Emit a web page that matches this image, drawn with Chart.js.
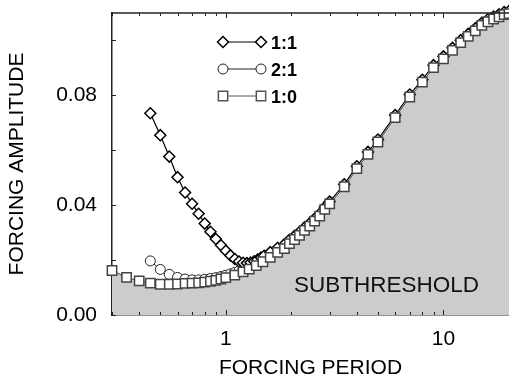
<!DOCTYPE html>
<html>
<head>
<meta charset="utf-8">
<script src="https://cdn.jsdelivr.net/npm/chart.js@4.4.1/dist/chart.umd.min.js"></script>
<style>
  html, body { margin: 0; padding: 0; background: #fff; }
</style>
</head>
<body>
<canvas id="chart" width="509" height="383"></canvas>
<script>
// 1:0 (squares) - threshold curve, filled below
const periodSquares = [0.3,0.35,0.4,0.45,0.5,0.55,0.6,0.65,0.7,0.75,0.8,0.85,0.9,0.95,
  1.0,1.1,1.2,1.28,1.38,1.48,1.6,1.73,1.86,1.96,2.07,2.18,2.3,2.43,2.56,2.7,2.85,3.0,
  3.5,4.0,4.5,5,6,7,8,9,10,11,12,13,14,15,16,17,18,19,20];
const ampSquares = [0.0162,0.0137,0.0124,0.0116,0.0112,0.0112,0.0113,0.0115,0.0116,0.0117,0.0120,0.0123,0.0126,0.0131,
  0.0136,0.0145,0.0157,0.0167,0.0180,0.0194,0.0210,0.0228,0.0242,0.0260,0.0275,0.0290,0.0308,0.0324,0.0342,0.0360,0.0385,0.0405,
  0.0467,0.0533,0.0585,0.0630,0.0719,0.0794,0.0848,0.0901,0.0933,0.0964,0.0992,0.1015,0.1035,0.1055,0.1068,0.1078,0.1086,0.1094,0.1098];

// 1:1 (diamonds)
const periodDiamonds = [0.45,0.5,0.55,0.6,0.65,0.7,0.75,0.8,0.85,0.9,0.95,1.0,1.05,1.1,1.15,1.2,1.25,1.3,1.35,1.4,1.45,1.5,
  1.6,1.73,1.86,1.96,2.07,2.18,2.3,2.43,2.56,2.7,2.85,3.0,
  3.5,4.0,4.5,5,6,7,8,9,10,11,12,13,14,15,16,17,18,19,20];
const ampDiamonds = [0.0735,0.0655,0.0577,0.0502,0.0446,0.0405,0.0369,0.0333,0.0303,0.0277,0.0254,0.0234,0.0217,0.0204,0.0195,0.0190,0.0189,0.0191,0.0196,0.0202,0.0209,0.0216,
  0.0229,0.0245,0.0258,0.0274,0.0288,0.0302,0.0319,0.0334,0.0351,0.0369,0.0393,0.0413,
  0.0476,0.0542,0.0594,0.0639,0.0728,0.0803,0.0857,0.0910,0.0942,0.0973,0.1001,0.1024,0.1044,0.1064,0.1077,0.1087,0.1095,0.1103,0.1107];

// 2:1 (circles)
const periodCircles = [0.45,0.5,0.55,0.6,0.65,0.7,0.75,0.8,0.85,0.9,0.95,1.0,1.05,1.1,1.15,1.2];
const ampCircles = [0.0197,0.0166,0.0148,0.0137,0.0131,0.0128,0.0128,0.0130,0.0133,0.0136,0.0140,0.0145,0.0150,0.0155,0.0161,0.0167];

const xTickVals = [0.3,0.4,0.5,0.6,0.7,0.8,0.9,1,2,3,4,5,6,7,8,9,10,20];
const xLabelVals = [1, 10];
const yTickVals = [0, 0.02, 0.04, 0.06, 0.08, 0.10];
const yLabelVals = [0, 0.04, 0.08];

const legendNames = ['1:1', '2:1', '1:0'];

const pts = (xs, ys) => xs.map((v, i) => ({ x: v, y: ys[i] }));
const near = (arr, v) => arr.some(a => Math.abs(a - v) < 1e-9);
const FONT = '"Liberation Sans", Arial, sans-serif';

const decor = {
  id: 'decor',
  afterDraw(chart) {
    const { ctx, chartArea: a, scales: { x, y } } = chart;
    ctx.save();
    ctx.strokeStyle = '#222';
    ctx.lineWidth = 1.5;
    ctx.beginPath();
    ctx.moveTo(a.left, a.top); ctx.lineTo(a.right, a.top);
    ctx.stroke();

    ctx.lineWidth = 1;
    ctx.beginPath();
    xTickVals.forEach(v => {
      const px = Math.round(x.getPixelForValue(v)) + 0.5;
      const len = near(xLabelVals, v) ? 5 : 3;
      ctx.moveTo(px, a.bottom); ctx.lineTo(px, a.bottom - len);
      ctx.moveTo(px, a.top); ctx.lineTo(px, a.top + len);
    });
    yTickVals.forEach(v => {
      const py = Math.round(y.getPixelForValue(v)) + 0.5;
      ctx.moveTo(a.left, py); ctx.lineTo(a.left + 4, py);
    });
    ctx.stroke();

    // region label
    ctx.fillStyle = '#111';
    ctx.font = '22.5px ' + FONT;
    ctx.textBaseline = 'alphabetic';
    ctx.textAlign = 'left';
    ctx.fillText('SUBTHRESHOLD', 294, 291.5);

    // legend
    const styles = [
      { pointStyle: 'rectRot', radius: 5.5, color: '#000', lw: 1.5 },
      { pointStyle: 'circle', radius: 5, color: '#222', lw: 1 },
      { pointStyle: 'rect', radius: 6.6, color: '#555', lw: 1.5 }
    ];
    const rows = [42, 69, 96];
    ctx.font = 'bold 18px ' + FONT;
    styles.forEach((s, i) => {
      const yy = rows[i];
      ctx.strokeStyle = s.color;
      ctx.lineWidth = 1;
      ctx.beginPath(); ctx.moveTo(223, yy); ctx.lineTo(261, yy); ctx.stroke();
      [223, 261].forEach(xx => {
        ctx.fillStyle = '#fff';
        ctx.strokeStyle = s.color;
        ctx.lineWidth = s.lw;
        Chart.helpers.drawPoint(ctx, { pointStyle: s.pointStyle, radius: s.radius, rotation: 0, borderWidth: s.lw }, xx, yy);
      });
      ctx.fillStyle = '#000';
      ctx.fillText(legendNames[i], 271, yy + 6.5);
    });
    ctx.restore();
  }
};

new Chart(document.getElementById('chart'), {
  type: 'line',
  data: {
    datasets: [
      {
        label: legendNames[2],
        data: pts(periodSquares, ampSquares),
        borderColor: '#444',
        borderWidth: 1,
        pointStyle: 'rect',
        pointRadius: 6.6,
        pointBorderWidth: 1.5,
        pointBorderColor: '#444',
        pointBackgroundColor: '#fff',
        backgroundColor: '#cccccc',
        fill: 'origin',
        tension: 0,
        clip: false,
        order: 0
      },
      {
        label: legendNames[1],
        data: pts(periodCircles, ampCircles),
        borderColor: '#222',
        borderWidth: 1,
        pointStyle: 'circle',
        pointRadius: 5,
        pointBorderWidth: 1,
        pointBorderColor: '#222',
        pointBackgroundColor: '#fff',
        fill: false,
        tension: 0,
        clip: false,
        order: 2
      },
      {
        label: legendNames[0],
        data: pts(periodDiamonds, ampDiamonds),
        borderColor: '#000',
        borderWidth: 1.2,
        pointStyle: 'rectRot',
        pointRadius: 5.5,
        pointBorderWidth: 1.5,
        pointBorderColor: '#000',
        pointBackgroundColor: '#fff',
        fill: false,
        tension: 0,
        clip: false,
        order: 1
      }
    ]
  },
  options: {
    responsive: false,
    animation: false,
    devicePixelRatio: 1,
    layout: { autoPadding: false, padding: { top: 13, right: 0, left: 0, bottom: 0 } },
    plugins: {
      legend: { display: false },
      tooltip: { enabled: false },
      filler: { drawTime: 'beforeDatasetsDraw' }
    },
    scales: {
      x: {
        type: 'logarithmic',
        min: 0.3,
        max: 20,
        afterBuildTicks: s => { s.ticks = xTickVals.map(v => ({ value: v })); },
        afterFit: s => { s.height = 68; s.paddingLeft = 0; s.paddingRight = 0; },
        grid: { display: false, drawTicks: false },
        border: { display: true, color: '#222', width: 1.5 },
        ticks: {
          autoSkip: false, maxRotation: 0, padding: 12,
          color: '#000',
          font: { family: FONT, size: 21 },
          callback: v => near(xLabelVals, v) ? String(v) : ''
        },
        title: {
          display: true, text: 'FORCING PERIOD', color: '#000',
          font: { family: FONT, size: 21 },
          padding: { top: 0, bottom: 2 }
        }
      },
      y: {
        min: 0,
        max: 0.11,
        afterBuildTicks: s => { s.ticks = yTickVals.map(v => ({ value: v })); },
        afterFit: s => { s.width = 112; s.paddingTop = 0; s.paddingBottom = 0; },
        grid: { display: false, drawTicks: false },
        border: { display: true, color: '#222', width: 1.5 },
        ticks: {
          padding: 15,
          color: '#000',
          font: { family: FONT, size: 21 },
          callback: v => near(yLabelVals, v) ? v.toFixed(2) : ''
        },
        title: {
          display: true, text: 'FORCING AMPLITUDE', color: '#000',
          font: { family: FONT, size: 21 },
          padding: { top: 5, bottom: 0 }
        }
      }
    }
  },
  plugins: [decor]
});
</script>
</body>
</html>
